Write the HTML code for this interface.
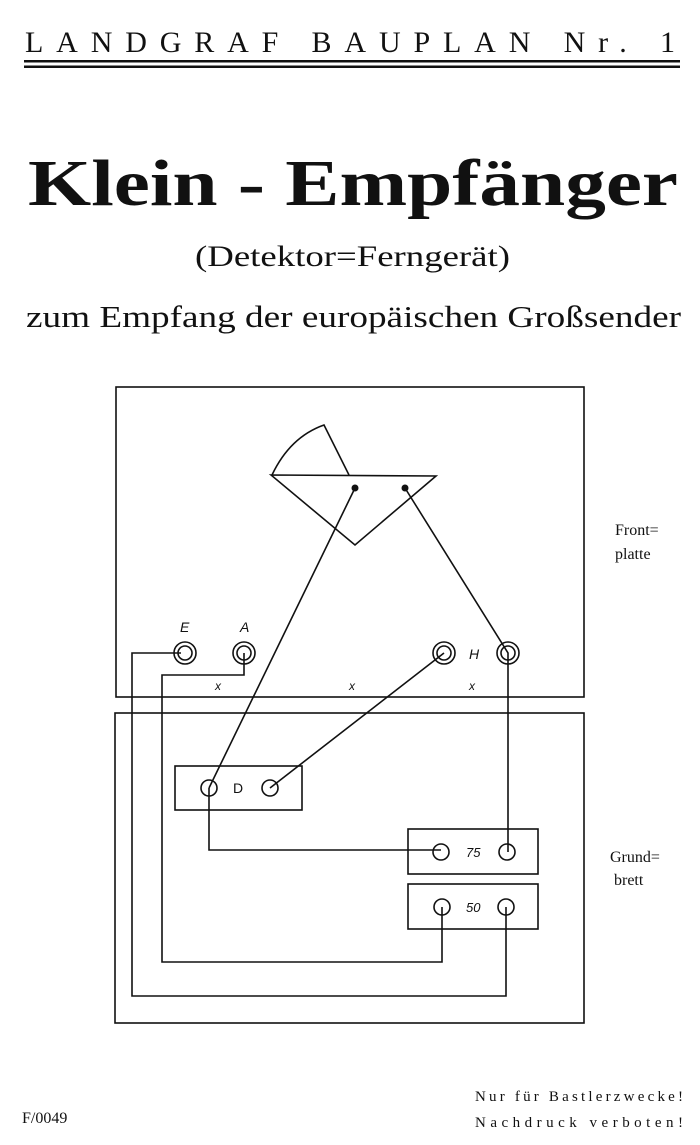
<!DOCTYPE html>
<html><head><meta charset="utf-8"><style>
html,body{margin:0;padding:0;background:#fff;width:700px;height:1145px;overflow:hidden}
svg{display:block}
</style></head><body>
<svg width="700" height="1145" viewBox="0 0 700 1145" xmlns="http://www.w3.org/2000/svg" font-family="Liberation Serif, serif" fill="#111">
<text x="25" y="52" font-size="30" textLength="650" lengthAdjust="spacing">LANDGRAF BAUPLAN Nr. 1</text>
<rect x="24" y="60" width="656" height="2.5"/>
<rect x="24" y="65.5" width="656" height="2.5"/>
<text x="28" y="205" font-size="66" font-weight="bold" textLength="650" lengthAdjust="spacingAndGlyphs">Klein - Empfänger</text>
<text x="195" y="266" font-size="30" textLength="315" lengthAdjust="spacingAndGlyphs">(Detektor=Ferngerät)</text>
<text x="26" y="327" font-size="31" textLength="655" lengthAdjust="spacingAndGlyphs">zum Empfang der europäischen Großsender</text>

<g stroke="#111" stroke-width="1.6" fill="none">
<rect x="116" y="387" width="468" height="310"/>
<rect x="115" y="713" width="469" height="310"/>
<path d="M272 475 Q290 437 324 425 L349 475"/>
<path d="M271 475 L436 476 L355 545 Z"/>
<circle cx="185" cy="653" r="11"/><circle cx="185" cy="653" r="7"/>
<circle cx="244" cy="653" r="11"/><circle cx="244" cy="653" r="7"/>
<circle cx="444" cy="653" r="11"/><circle cx="444" cy="653" r="7"/>
<circle cx="508" cy="653" r="11"/><circle cx="508" cy="653" r="7"/>
<rect x="175" y="766" width="127" height="44"/>
<circle cx="209" cy="788" r="8"/><circle cx="270" cy="788" r="8"/>
<rect x="408" y="829" width="130" height="45"/>
<circle cx="441" cy="852" r="8"/><circle cx="507" cy="852" r="8"/>
<rect x="408" y="884" width="130" height="45"/>
<circle cx="442" cy="907" r="8"/><circle cx="506" cy="907" r="8"/>
<path d="M181 653 H132 V996 H506 V907"/>
<path d="M244 653 V675 H162 V962 H442 V907"/>
<path d="M355 488 L209 788"/>
<path d="M444 653 L270 788"/>
<path d="M405 488 L508 653 V852"/>
<path d="M209 788 V850 H441"/>
</g>
<circle cx="355" cy="488" r="3.5"/><circle cx="405" cy="488" r="3.5"/>
<g font-family="Liberation Sans, sans-serif" font-style="italic" font-size="14">
<text x="180" y="632">E</text><text x="240" y="632">A</text><text x="469" y="659">H</text>
<text x="215" y="690" font-size="12">x</text><text x="349" y="690" font-size="12">x</text><text x="469" y="690" font-size="12">x</text>
<text x="233" y="793" font-style="normal">D</text>
<text x="466" y="857" font-size="13">75</text><text x="466" y="912" font-size="13">50</text>
</g>
<g font-size="16">
<text x="615" y="535">Front=</text><text x="615" y="559">platte</text>
<text x="610" y="862">Grund=</text><text x="614" y="885">brett</text>
<text x="22" y="1123">F/0049</text>
<text x="475" y="1101" font-size="15" textLength="208" lengthAdjust="spacing">Nur für Bastlerzwecke!</text>
<text x="475" y="1127" font-size="15" textLength="208" lengthAdjust="spacing">Nachdruck verboten!</text>
</g>
</svg>
</body></html>
